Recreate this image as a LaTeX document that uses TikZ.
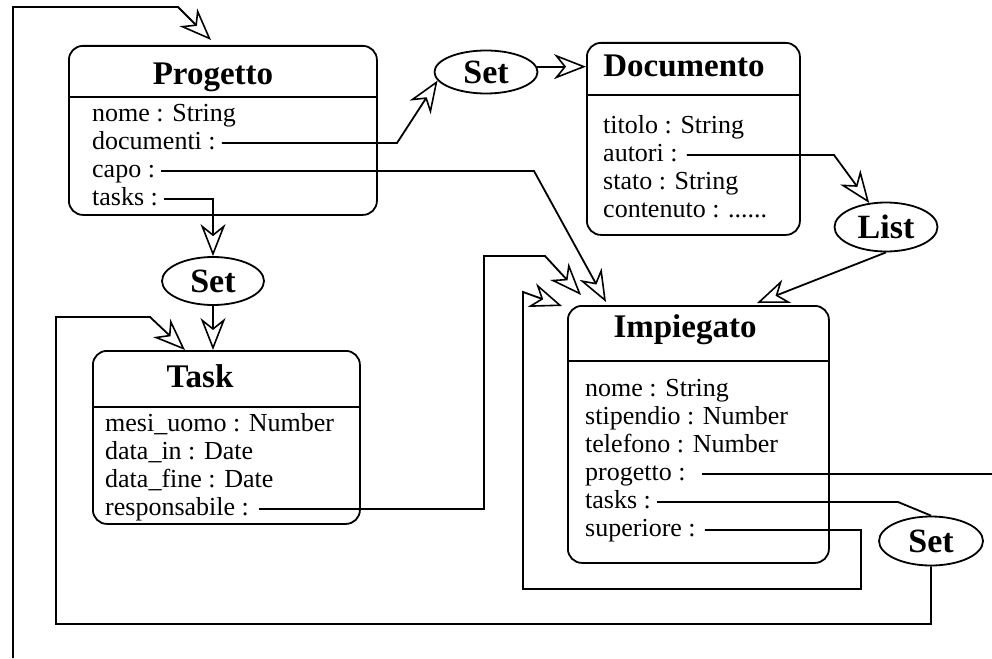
\documentclass[tikz,border=0pt]{standalone}
\usepackage{fontspec}
\setmainfont{Liberation Serif}
\usetikzlibrary{arrows.meta,shapes.geometric}

\tikzset{
  conn/.style={line width=1.8pt, line join=miter},
  arr/.style={conn, -{Stealth[open, length=32pt, width=25pt, inset=10pt, line width=1.6pt]}},
  classbox/.style={draw, line width=1.8pt, rounded corners=14pt, anchor=north west, inner sep=0pt},
  sepline/.style={line width=1.8pt},
  title/.style={font=\fontsize{33}{36}\selectfont\bfseries, anchor=base, inner sep=0pt},
  row/.style={font=\fontsize{26}{28}\selectfont, anchor=west, inner xsep=6pt, inner ysep=0pt,
              text height=18pt, text depth=5pt},
  coll/.style={draw, ellipse, line width=1.8pt, inner sep=0pt, font=\fontsize{34}{36}\selectfont\bfseries},
}

\begin{document}
\begin{tikzpicture}[x=1pt,y=-1pt]
\useasboundingbox (0,0) rectangle (992,658);

% ---------- class Progetto ----------
\node[classbox, minimum width=308pt, minimum height=169pt] (prog) at (68,45) {};
\node[title] (progT) at (213,85) {Progetto};
\draw[sepline] (prog.west |- 0,97) -- (prog.east |- 0,97);
\node[row] (pnome) at (86,115) {nome : String};
\node[row] (pdoc)  at (86,143) {documenti :};
\node[row] (pcapo) at (86,171) {capo :};
\node[row] (ptask) at (86,199) {tasks :};

% ---------- class Documento ----------
\node[classbox, minimum width=213pt, minimum height=192pt] (doc) at (586,42) {};
\node[title] (docT) at (684,77) {Documento};
\draw[sepline] (doc.west |- 0,95) -- (doc.east |- 0,95);
\node[row] (dtit)  at (597,127) {titolo : String};
\node[row] (dauth) at (597,155) {autori :};
\node[row] (dstat) at (597,183) {stato : String};
\node[row] (dcont) at (597,211) {contenuto : ......};

% ---------- class Task ----------
\node[classbox, minimum width=267pt, minimum height=173pt] (task) at (92,350) {};
\node[title] (taskT) at (200,387) {Task};
\draw[sepline] (task.west |- 0,407) -- (task.east |- 0,407);
\node[row] (tmesi) at (99,425) {mesi\_uomo : Number};
\node[row] (tin)   at (99,453) {data\_in : Date};
\node[row] (tfine) at (99,481) {data\_fine : Date};
\node[row] (tresp) at (99,509) {responsabile :};

% ---------- class Impiegato ----------
\node[classbox, minimum width=261pt, minimum height=257pt] (imp) at (567,305) {};
\node[title] (impT) at (685,337) {Impiegato};
\draw[sepline] (imp.west |- 0,361) -- (imp.east |- 0,361);
\node[row] (inome) at (579,390) {nome : String};
\node[row] (istip) at (579,418) {stipendio : Number};
\node[row] (itel)  at (579,446) {telefono : Number};
\node[row] (iprog) at (579,474) {progetto :};
\node[row] (itask) at (579,502) {tasks :};
\node[row] (isup)  at (579,530) {superiore :};

% ---------- collection nodes ----------
\node[coll, minimum width=103pt, minimum height=43pt] (setD) at (486,72) {Set};
\node[coll, minimum width=102pt, minimum height=48pt] (setT) at (213,281) {Set};
\node[coll, minimum width=103pt, minimum height=49pt] (list) at (886,227) {List};
\node[coll, minimum width=104pt, minimum height=49pt] (setI) at (931,541) {Set};

% ---------- bend points and free ends ----------
\coordinate (docBend)  at (397,143);
\coordinate (capoBend) at (534,171);
\coordinate (capoTip)  at (606,302);
\coordinate (respUp)   at (484,256);
\coordinate (respRun)  at (545,256);
\coordinate (respTip)  at (581,295);
\coordinate (supR)     at (861,589);
\coordinate (supL)     at (523,292);
\coordinate (supTip)   at (562,306);
\coordinate (autBend)  at (834,155);
\coordinate (listTip)  at (757,303);
\coordinate (itBend)   at (898,502);
\coordinate (loopB)    at (56,624);
\coordinate (loopT)    at (56,317);
\coordinate (loopRun)  at (150,317);
\coordinate (taskTip)  at (185,350);
\coordinate (rightOut) at (992,474);
\coordinate (leftIn)   at (13,658);
\coordinate (leftTop)  at (13,7);
\coordinate (leftRun)  at (178,7);
\coordinate (progTip)  at (211,40);

% ---------- connectors ----------
\draw[arr] (pdoc.east) -- (docBend) -- (setD.190);
\draw[arr] (setD.6) -- (setD.6 -| doc.west);
\draw[arr] (ptask.east) -- (ptask.east -| setT.north) -- (setT.north);
\draw[arr] (setT.south) -- (setT.south |- task.north);
\draw[arr] (pcapo.east) -- (capoBend) -- (capoTip);
\draw[arr] ([xshift=4pt]tresp.east) -- (tresp.east -| respUp) -- (respUp) -- (respRun) -- (respTip);
\draw[arr] ([xshift=3pt]isup.east) -- (isup.east -| supR) -- (supR) -- (supR -| supL) -- (supL) -- (supTip);
\draw[arr] ([xshift=3pt]dauth.east) -- (dauth.east -| autBend) -- (list.125);
\draw[arr] (list.south) -- (listTip);
\draw[conn] (itask.east) -- (itBend) -- (setI.north);
\draw[arr] (setI.south) -- (setI.south |- loopB) -- (loopB) -- (loopT) -- (loopRun) -- (taskTip);
\draw[conn] ([xshift=10pt]iprog.east) -- (rightOut);
\draw[arr] (leftIn) -- (leftTop) -- (leftRun) -- (progTip);
\end{tikzpicture}
\end{document}
